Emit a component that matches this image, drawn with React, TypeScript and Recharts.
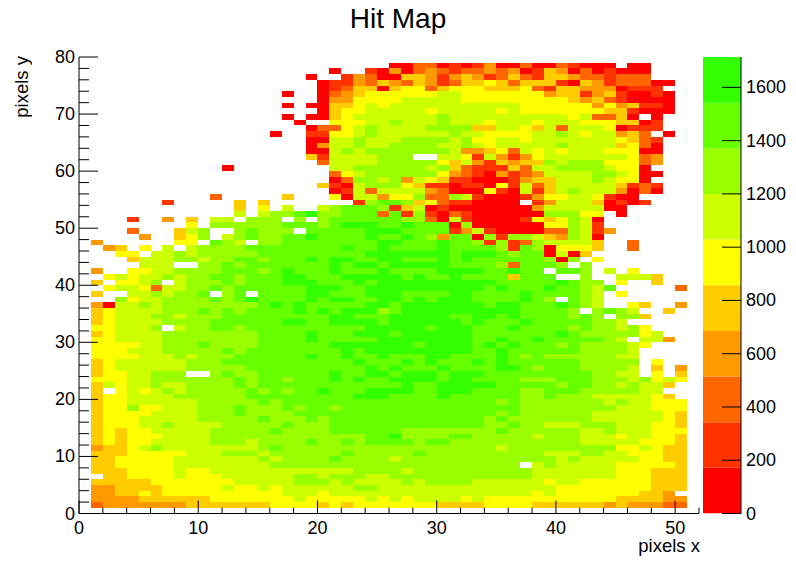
import { BarChart, Bar, ScatterChart, Scatter, XAxis, YAxis } from 'recharts'

const FONT = '"Liberation Sans", Arial, sans-serif'

// one colour per palette band, lowest first
const levelColors = [
  '#ff0000', '#ff3300', '#ff6600', '#ff9900', '#ffcc00',
  '#ffff00', '#ccff00', '#99ff00', '#66ff00', '#33ff00',
]
const zBands = [171.4, 171.4, 171.4, 171.4, 171.4, 171.4, 171.4, 171.4, 171.4, 171.4]
const zTicks = [0, 200, 400, 600, 800, 1000, 1200, 1400, 1600]
const xTicks = [0, 2, 4, 6, 8, 10, 12, 14, 16, 18, 20, 22, 24, 26, 28, 30, 32, 34, 36, 38, 40, 42, 44, 46, 48, 50, 52]
const yTicks = [0, 2, 4, 6, 8, 10, 12, 14, 16, 18, 20, 22, 24, 26, 28, 30, 32, 34, 36, 38, 40, 42, 44, 46, 48, 50, 52, 54, 56, 58, 60, 62, 64, 66, 68, 70, 72, 74, 76, 78, 80]

// band index per bin. top row is y bin 79, groups are 10 columns
const hitRows = [
  '.......... .......... .......... .......... .......... ..',
  '.......... .......... ......0022 0101300200 21000.00.. ..',
  '.......... .......... .0..103023 2122323014 30201000.. ..',
  '.......... .........0 ..13200443 1343124214 43221222.. ..',
  '.......... .......... 0113243243 1244542444 1043122200 ..',
  '.......... .......... 0124404552 4555444521 443330111. ..',
  '.......... .......0.. 0234555555 6655555553 4413410010 ..',
  '.......... .......... 0335555666 6655555555 5434210000 ..',
  '.......... .......0.0 0445656666 6666666555 5553534110 ..',
  '.......... .......... 0455666665 6666656555 5555441000 ..',
  '.......... .......0.0 0456666666 7666666666 6562240.0. ..',
  '.......... ........0. .555667666 7666566656 665554401. ..',
  '.......... .........0 2256766667 7774466546 266650111. ..',
  '.......... ......0..1 1556766666 6766555566 76566342.0 ..',
  '.......... .........0 0667666777 7675566566 666665421. ..',
  '.......... .........0 3667667777 6676566666 766664520. ..',
  '.......... .........0 0676777777 7633452656 566655500. ..',
  '.......... .........4 16666777.. 6651631356 666666523. ..',
  '.......... .......... 2666677777 5463143447 677755523. ..',
  '.......... ..0....... .667777776 7421114266 77776550.. ..',
  '.......... .......... .256777777 5321031236 666776500. ..',
  '.......... .......... .027767365 4110001344 66676550.. ..',
  '.......... .......... 4106777541 1011051624 666664121. ..',
  '.......... .......... .016266663 2000510614 676663020. ..',
  '.......... .2.....4.. .506635572 2761000135 5665100... ..',
  '.......1.. ...4.4.... ...1788745 2110000.13 66640101.. ..',
  '.......... ...4.5.6.. 6788871460 1000000036 666600.... ..',
  '.......... ...6.67789 7788828171 0210000007 7755.0.... ..',
  '....1..3.4 .66.777.7. 7888888772 0610000154 5760...... ..',
  '.........5 .777777888 7899988988 8070000005 5761...... ..',
  '....2...46 7..78777.8 8888999888 8136100002 27613..... ..',
  '.....3..45 7.67877889 8888988987 3880717764 3760...... ..',
  '.3......55 .876.77888 8888899888 9887171276 6664..2... ..',
  '..34.5.6.6 7777888888 8898898888 9888871870 5554..2... ..',
  '...55.6676 7777788888 8888999999 9899987880 604....... ..',
  '....466677 6778878889 8998899888 9898888887 07.5...... ..',
  '.....666.. 7787888888 8989989999 9888872888 7.7....... ..',
  '.3..556677 7788878988 8988898888 999988988. 887.6.5... ..',
  '..56566767 7887888998 8899999898 8988884888 ..7..6664. ..',
  '.4.5567.67 7787888999 8889899999 9999988888 9877.5..4. ..',
  '..56652667 7878888889 9988999999 9999898889 88768..... 2.',
  '.4..667677 8.78.88889 9888999888 8998888988 8876.5.... ..',
  '...7566777 7878988889 8998899898 9998888987 .876...... ..',
  '.306676777 7777789898 8888998999 9999899888 9876..54.. 3.',
  '.456666777 8787888898 9899978999 9999999888 87.7876..4 ..',
  '.456667767 7788888888 8998889999 9889989888 8787.774.. ..',
  '.456666777 7888888998 8999989999 9989888988 888776.... ..',
  '.556667.67 7887888888 8888999998 9998889888 87877675.. ..',
  '.456666777 7777788889 8889998999 9998888888 987777756. ..',
  '.556666777 7777788889 8888899999 9998898898 888876.663 ..',
  '.555566777 8777788888 8999999989 9998989888 78777765.. ..',
  '.555666777 7787888888 8898999999 9998898888 8877776... ..',
  '.555566676 7778888889 8898898889 9888898787 7777766... ..',
  '.456666667 7788888888 8889888989 8889898888 8877777.5. ..',
  '.456666667 7777888888 8888989888 9888899878 8877776.4. 3.',
  '.45566777. .787788888 8988998999 8999888888 8887766.5. 4.',
  '.555667777 7778788788 8989889999 8998888777 8887776756 5.',
  '.465667667 7778788888 8888888988 9999988888 7887767664 ..',
  '.4.5656767 7777878788 9888999988 9998888778 887777766. ..',
  '.455666677 7777888888 8889998888 9888888778 7776666654 ..',
  '.455666666 7777787888 8888888888 8888878777 7777676655 5.',
  '.455755666 7778777878 8788888888 8888888777 7777766655 5.',
  '.455556666 7778777788 8888888888 8888878777 7776666665 4.',
  '.455566666 7777787778 7888888888 8888787777 7776666665 4.',
  '.455566766 6677777877 7888888888 8888778776 6677766655 4.',
  '.454556666 6777778777 7888888777 7777787777 7766766655 5.',
  '.454555666 6777777777 7777889777 7887777767 7766656655 4.',
  '.454556666 6777677778 7787888878 8777777777 7766666555 4.',
  '.344567666 6666678777 7777777777 7777767777 7777755654 4.',
  '.444555556 6677767777 7787777787 7777777776 6677665554 4.',
  '.445555566 6666676777 7877776777 7777777777 6766666554 4.',
  '.445555566 6666667777 7777777777 7777777.67 6666655555 4.',
  '.444555565 5666666666 6667777677 7777777766 6666655544 4.',
  '..44555565 5566666677 6777667777 7777777766 6666655544 4.',
  '.444445555 5556666677 7676666767 7776666665 6655555544 4.',
  '.334444555 5565565666 6667766666 6666666666 5555555544 4.',
  '.334454555 5555555666 5666666666 6666666656 5555555443 ..',
  '.333344444 4555555565 5555656566 6656555555 5555544443 3.',
  '.233333334 4444445555 4545555555 4444555544 4444343332 2.',
  '.......... .......... .......... .......... .......... ..',
]

const cells: { x: number; y: number; level: number }[] = []
hitRows.forEach((row, i) => {
  const bins = row.replace(/ /g, '')
  for (let col = 0; col < bins.length; col++) {
    if (bins[col] === '.') continue
    cells.push({ x: col + 0.5, y: 79 - i + 0.5, level: Number(bins[col]) })
  }
})

const PLOT_W = 620
const PLOT_H = 456.5
const binW = PLOT_W / 52
const binH = PLOT_H / 80

function HitCell(props: any) {
  const { cx, cy, payload } = props
  const left = Math.round(cx - binW / 2)
  const right = Math.round(cx + binW / 2)
  const top = Math.round(cy - binH / 2)
  const bottom = Math.round(cy + binH / 2)
  return <rect x={left} y={top} width={right - left} height={bottom - top} fill={levelColors[payload.level]} shapeRendering="crispEdges" />
}

function XTick({ x, y, payload }: any) {
  const major = payload.value % 10 === 0
  return (
    <g>
      <line x1={x} x2={x} y1={y} y2={y - (major ? 13 : 6)} stroke="#000" />
      {major && payload.value <= 50 && (
        <text x={x} y={y + 20} textAnchor="middle" fontSize={18} fontFamily={FONT} fill="#000">{payload.value}</text>
      )}
    </g>
  )
}

function YTick({ x, y, payload }: any) {
  const major = payload.value % 10 === 0
  return (
    <g>
      <line x1={x} x2={x + (major ? 19 : 10)} y1={y} y2={y} stroke="#000" />
      {major && (
        <text x={x - 4} y={y + 6} textAnchor="end" fontSize={18} fontFamily={FONT} fill="#000">{payload.value}</text>
      )}
    </g>
  )
}

function ZTick({ x, y, payload }: any) {
  return (
    <g>
      <line x1={x - 19} x2={x} y1={y} y2={y} stroke="#000" />
      <text x={x + 5} y={y + 6} textAnchor="start" fontSize={18} fontFamily={FONT} fill="#000">{payload.value}</text>
    </g>
  )
}

const zRow = [{ name: 'z', ...Object.fromEntries(zBands.map((v, i) => [`b${i}`, v])) }]

export default function App() {
  return (
    <div style={{ position: 'fixed', left: 0, top: 0, width: 796, height: 572, background: '#fff' }}>
      <div style={{ position: 'absolute', left: 0, top: 0 }}>
        <ScatterChart width={796} height={572} margin={{ top: 57, right: 97, bottom: 0, left: 0 }}>
          <XAxis type="number" dataKey="x" domain={[0, 52]} ticks={xTicks} interval={0} height={58.5} tickSize={0} tickMargin={0} tickLine={false} tick={<XTick />} stroke="#000" allowDataOverflow />
          <XAxis xAxisId="top" orientation="top" type="number" domain={[0, 52]} height={0} tick={false} tickLine={false} stroke="#000" />
          <YAxis type="number" dataKey="y" domain={[0, 80]} ticks={yTicks} interval={0} width={79} tickSize={0} tickMargin={0} tickLine={false} tick={<YTick />} stroke="#000" allowDataOverflow />
          <YAxis yAxisId="right" orientation="right" type="number" domain={[0, 80]} width={0} tick={false} tickLine={false} stroke="#000" />
          <Scatter data={cells} shape={<HitCell />} isAnimationActive={false} />
        </ScatterChart>
      </div>
      <div style={{ position: 'absolute', left: 0, top: 0 }}>
        <BarChart width={796} height={572} data={zRow} barCategoryGap={0} margin={{ top: 57, right: 0, bottom: 58.5, left: 703 }}>
          <XAxis dataKey="name" hide />
          <YAxis orientation="right" type="number" domain={[0, 1714]} ticks={zTicks} interval={0} width={55} tickSize={0} tickMargin={0} tickLine={false} tick={<ZTick />} stroke="#000" allowDataOverflow />
          {levelColors.map((color, i) => (
            <Bar key={color} dataKey={`b${i}`} stackId="z" fill={color} isAnimationActive={false} />
          ))}
        </BarChart>
      </div>
      <div style={{ position: 'absolute', left: 0, width: 796, top: 2, textAlign: 'center', fontFamily: FONT, fontSize: 28, lineHeight: '34px', color: '#000' }}>Hit Map</div>
      <div style={{ position: 'absolute', right: 96, top: 537, fontFamily: FONT, fontSize: 18.5, lineHeight: '17px', color: '#000' }}>pixels x</div>
      <div style={{ position: 'absolute', left: 11, top: 56, writingMode: 'vertical-rl', transform: 'rotate(180deg)', fontFamily: FONT, fontSize: 18.5, lineHeight: '22px', color: '#000' }}>pixels y</div>
    </div>
  )
}
